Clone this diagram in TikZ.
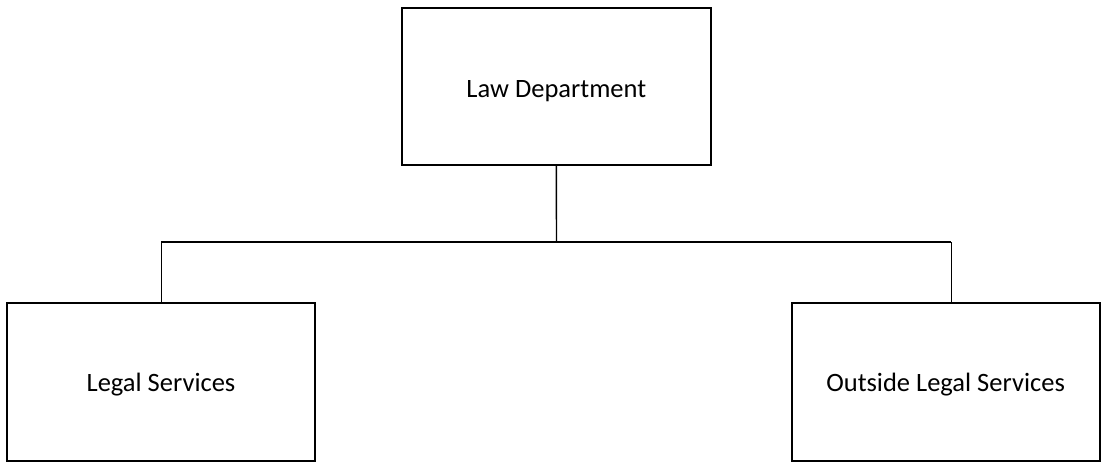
\documentclass[tikz,border=0pt]{standalone}
\usepackage{fontspec}
\setmainfont{Carlito}
\newcommand{\lowertext}[2]{\raisebox{-#1}[\height][\depth]{#2}}
\begin{document}
\begin{tikzpicture}[x=1pt,y=-1pt,
  box/.style={draw=black,line width=2pt,rectangle,inner sep=0pt,outer sep=0pt,
    font=\fontsize{26.5}{30}\selectfont},
  conn/.style={draw=black,line width=1.4pt}]
\useasboundingbox (0,0) rectangle (1102,466);
\node[box,minimum width=309pt,minimum height=157.5pt] (top) at (556.3,86.3) {\lowertext{5pt}{Law Department}};
\node[box,minimum width=308pt,minimum height=158pt] (left) at (161,382) {\lowertext{3pt}{Legal Services}};
\node[box,minimum width=307.8pt,minimum height=158pt] (right) at (945.6,382) {\lowertext{3pt}{Outside Legal Services}};
\coordinate (busL) at (161.3,242);
\coordinate (busR) at (951.3,242);
\coordinate (busC) at (556.5,242);
\draw[conn] (top.south) -- (busC);
\draw[conn] (busL) -- (busR);
\draw[conn] (busL) -- (busL |- left.north);
\draw[conn] (busR) -- (busR |- right.north);
\end{tikzpicture}
\end{document}
